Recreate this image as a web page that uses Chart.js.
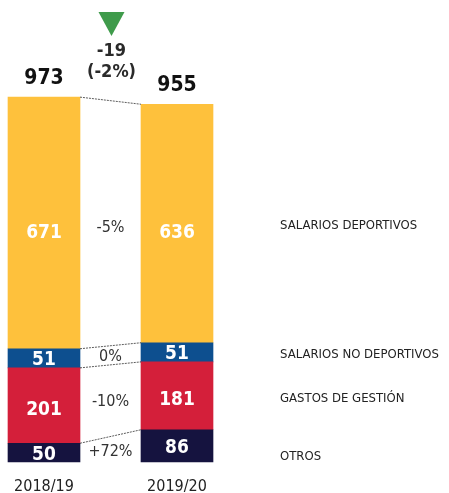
<!DOCTYPE html>
<html>
<head>
<meta charset="utf-8">
<script src="https://cdn.jsdelivr.net/npm/chart.js@4/dist/chart.umd.min.js"></script>
<style>
  html, body { margin: 0; padding: 0; background: #fff; }
  #wrap { width: 449px; height: 493px; }
</style>
</head>
<body>
<div id="wrap"><canvas id="gastos_chart"></canvas></div>
<script>
// seasons
const seasons = ['2018/19', '2019/20'];

// series, stacked from the bottom up
const otros = [50, 86];
const gastosGestion = [201, 181];
const salariosNoDeportivos = [51, 51];
const salariosDeportivos = [671, 636];

// totals as printed (rounded in the source)
const totals = [973, 955];

const seriesNames = ['OTROS', 'GASTOS DE GESTIÓN', 'SALARIOS NO DEPORTIVOS', 'SALARIOS DEPORTIVOS'];
const seriesColours = ['#15133f', '#d41f3a', '#0d4f8f', '#fec13c'];

// change between seasons, per series (same order as above)
const seriesChange = ['+72%', '-10%', '0%', '-5%'];
const totalChange = '-19';
const totalChangePct = '(-2%)';

const FONT = "'DejaVu Sans Condensed', 'Liberation Sans Narrow', Roboto, sans-serif";

const allSeries = [otros, gastosGestion, salariosNoDeportivos, salariosDeportivos];

const datasets = [];
for (var i = 0; i < allSeries.length; i++) {
    datasets.push({
        label: seriesNames[i],
        data: allSeries[i],
        backgroundColor: seriesColours[i],
        borderWidth: 0,
        barThickness: 72,
        clip: false
    });
}

// small vertical nudges for the labels, bottom series first
const valueNudge = [1, 3, 1, 9];
const changeNudge = [3, 1, 2, 5];
const sideNudge = [11, 3, 2, 2];

// draws value labels, totals, connector lines, changes and the side labels
const annotations = {
    id: 'annotations',
    afterDatasetsDraw(chart) {
        const ctx = chart.ctx;
        const y = chart.scales.y;
        const x = chart.scales.x;
        const metas = datasets.map((d, i) => chart.getDatasetMeta(i));
        ctx.save();

        // values inside the segments
        ctx.fillStyle = '#fff';
        ctx.font = 'bold 19px ' + FONT;
        ctx.textAlign = 'center';
        ctx.textBaseline = 'middle';
        metas.forEach((meta, i) => {
            meta.data.forEach((bar, j) => {
                const cy = (bar.y + bar.base) / 2;
                ctx.fillText(String(allSeries[i][j]), bar.x, cy + valueNudge[i] + 1);
            });
        });

        // totals on top
        ctx.fillStyle = '#111';
        ctx.font = 'bold 21px ' + FONT;
        ctx.textBaseline = 'alphabetic';
        seasons.forEach((s, j) => {
            const top = y.getPixelForValue(totals[j]);
            ctx.fillText(String(totals[j]), x.getPixelForValue(j), top - 13);
        });

        // season labels under the bars
        ctx.fillStyle = '#222';
        ctx.font = '16px ' + FONT;
        ctx.textBaseline = 'middle';
        seasons.forEach((s, j) => {
            ctx.fillText(s, x.getPixelForValue(j), y.bottom + 25);
        });

        // dotted connectors between the bars
        ctx.strokeStyle = '#333';
        ctx.lineWidth = 0.8;
        ctx.setLineDash([2, 1]);
        let cum0 = 0, cum1 = 0;
        for (var k = 0; k < allSeries.length; k++) {
            cum0 += allSeries[k][0];
            cum1 += allSeries[k][1];
            const b0 = metas[k].data[0], b1 = metas[k].data[1];
            ctx.beginPath();
            ctx.moveTo(b0.x + b0.width / 2, y.getPixelForValue(cum0));
            ctx.lineTo(b1.x - b1.width / 2, y.getPixelForValue(cum1));
            ctx.stroke();
        }
        ctx.setLineDash([]);

        // percentage change in the gap
        const midX = (x.getPixelForValue(0) + x.getPixelForValue(1)) / 2;
        ctx.fillStyle = '#333';
        ctx.font = '16px ' + FONT;
        metas.forEach((meta, i) => {
            const c0 = (meta.data[0].y + meta.data[0].base) / 2;
            const c1 = (meta.data[1].y + meta.data[1].base) / 2;
            ctx.fillText(seriesChange[i], midX, (c0 + c1) / 2 + changeNudge[i]);
        });

        // total change with arrow
        ctx.fillStyle = '#3f9b4b';
        ctx.beginPath();
        ctx.moveTo(midX - 12, 12);
        ctx.lineTo(midX + 14, 12);
        ctx.lineTo(midX + 1, 36);
        ctx.closePath();
        ctx.fill();
        ctx.fillStyle = '#2a2a2a';
        ctx.font = 'bold 18px ' + FONT;
        ctx.fillText(totalChange, midX + 1, 51);
        ctx.fillText(totalChangePct, midX + 1, 72);

        // side labels, next to the second bar
        ctx.textAlign = 'left';
        ctx.font = '13px ' + FONT;
        ctx.fillStyle = '#222';
        metas.forEach((meta, i) => {
            const bar = meta.data[1];
            const cy = (bar.y + bar.base) / 2;
            ctx.fillText(seriesNames[i], 280, cy + sideNudge[i]);
        });

        ctx.restore();
    }
};

const canvas = document.getElementById('gastos_chart');
new Chart(canvas, {
    type: 'bar',
    data: { labels: seasons, datasets: datasets },
    options: {
        responsive: true,
        maintainAspectRatio: false,
        animation: false,
        layout: { padding: { left: 44, right: 272, top: 87, bottom: 31 } },
        plugins: { legend: { display: false }, tooltip: { enabled: false } },
        scales: {
            x: {
                stacked: true,
                offset: false,
                display: false
            },
            y: {
                stacked: true,
                display: false,
                min: 0,
                max: 1000
            }
        }
    },
    plugins: [annotations]
});
</script>
</body>
</html>
